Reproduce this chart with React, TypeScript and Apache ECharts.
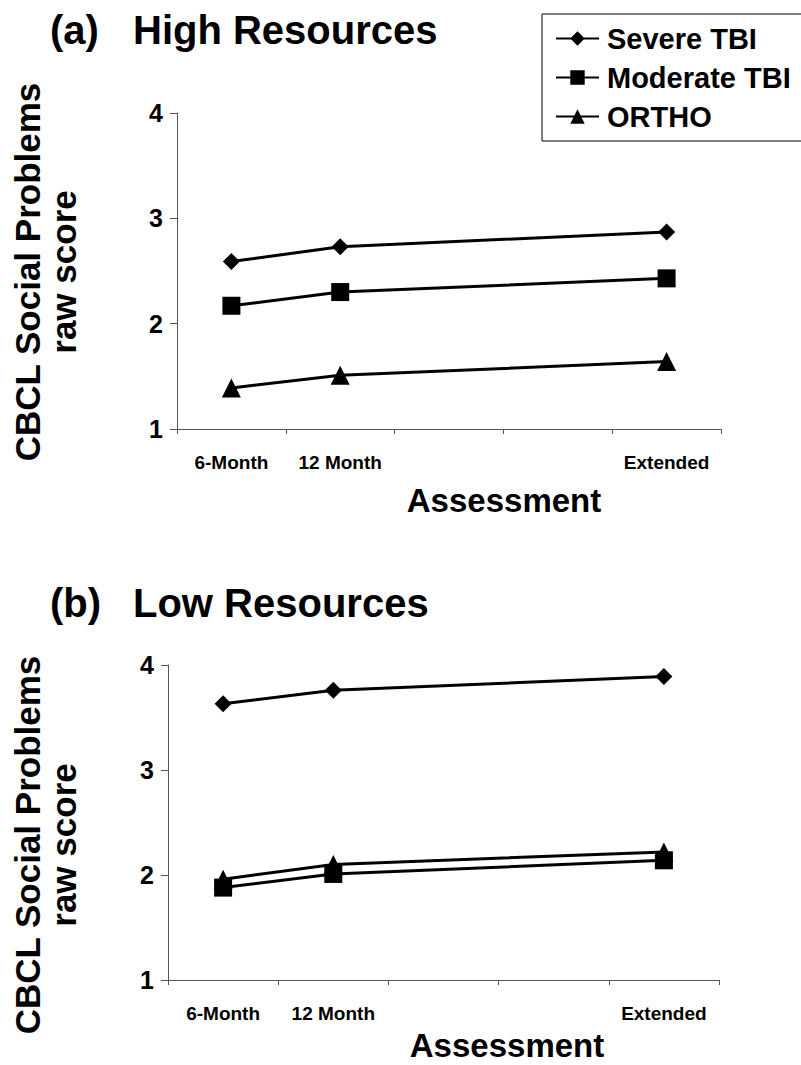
import React, { useEffect, useRef } from "react";
import * as echarts from "echarts";

const categories = ["6-Month", "12 Month", "", "", "Extended"];
const seriesNames = ["Severe TBI", "Moderate TBI", "ORTHO"];
const seriesSymbols = ["diamond", "rect", "triangle"];
const seriesSymbolSizes = [17, 18, 19];

// (a) High Resources
const highSevere = [2.59, 2.73, null, null, 2.87];
const highModerate = [2.17, 2.3, null, null, 2.43];
const highOrtho = [1.39, 1.51, null, null, 1.64];

// (b) Low Resources
const lowSevere = [3.63, 3.76, null, null, 3.89];
const lowModerate = [1.88, 2.01, null, null, 2.14];
const lowOrtho = [1.96, 2.1, null, null, 2.22];

const yTicks = [1, 2, 3, 4];

const FONT = "'Liberation Sans', Arial, sans-serif";

export default function App() {
  const ref = useRef<HTMLDivElement>(null);

  useEffect(() => {
    if (!ref.current) return;
    const chart = echarts.init(ref.current, null, { renderer: "svg" });

    const grids = [
      { left: 177, top: 113, width: 544, height: 316 },
      { left: 168, top: 665, width: 551, height: 315 },
    ];

    const xAxisBase = (gridIndex: number) => ({
      type: "category",
      gridIndex,
      data: categories,
      boundaryGap: true,
      axisLine: { lineStyle: { color: "#555", width: 1 } },
      axisTick: { show: true, length: 5, lineStyle: { color: "#555" } },
      axisLabel: {
        interval: 0,
        margin: 24,
        fontSize: 19,
        fontWeight: "bold",
        fontFamily: FONT,
        color: "#000",
      },
      splitLine: { show: false },
    });

    const yAxisBase = (gridIndex: number) => ({
      type: "value",
      gridIndex,
      min: yTicks[0],
      max: yTicks[yTicks.length - 1],
      interval: 1,
      axisLine: { show: true, lineStyle: { color: "#555", width: 1 } },
      axisTick: { show: true, length: 7, lineStyle: { color: "#555" } },
      axisLabel: {
        margin: 14,
        fontSize: 25,
        fontWeight: "bold",
        fontFamily: FONT,
        color: "#000",
      },
      splitLine: { show: false },
    });

    const panelData = [
      [highSevere, highModerate, highOrtho],
      [lowSevere, lowModerate, lowOrtho],
    ];

    const series: any[] = [];
    panelData.forEach((group, gi) => {
      group.forEach((data, si) => {
        series.push({
          type: "line",
          name: seriesNames[si],
          xAxisIndex: gi,
          yAxisIndex: gi,
          data,
          connectNulls: true,
          symbol: seriesSymbols[si],
          symbolSize: seriesSymbolSizes[si],
          showSymbol: true,
          lineStyle: { color: "#000", width: 3 },
          itemStyle: { color: "#000" },
          z: 3 - si,
        });
      });
    });

    const bigText = (text: string, x: number, y: number, size: number, extra: any = {}) => ({
      type: "text",
      x,
      y,
      style: {
        text,
        fontSize: size,
        fontWeight: "bold",
        fontFamily: FONT,
        fill: "#000",
        align: extra.align || "left",
        verticalAlign: "middle",
      },
      rotation: extra.rotation || 0,
    });

    chart.setOption({
      animation: false,
      backgroundColor: "#fff",
      grid: grids,
      xAxis: [xAxisBase(0), xAxisBase(1)],
      yAxis: [yAxisBase(0), yAxisBase(1)],
      legend: {
        orient: "vertical",
        left: 542,
        top: 14,
        padding: [10, 40, 10, 13],
        itemGap: 10,
        itemWidth: 43,
        itemHeight: 18,
        borderColor: "#000",
        borderWidth: 1,
        backgroundColor: "#fff",
        data: seriesNames,
        textStyle: {
          fontSize: 29,
          fontWeight: "bold",
          fontFamily: FONT,
          color: "#000",
          padding: [0, 0, 0, 3],
        },
      },
      graphic: [
        bigText("(a)", 50, 30, 40),
        bigText("High Resources", 133, 30, 40),
        bigText("(b)", 50, 603, 40),
        bigText("Low Resources", 133, 603, 40),
        bigText("CBCL Social Problems", 27, 272, 35, { align: "center", rotation: Math.PI / 2 }),
        bigText("raw score", 63, 272, 35, { align: "center", rotation: Math.PI / 2 }),
        bigText("CBCL Social Problems", 27, 845, 35, { align: "center", rotation: Math.PI / 2 }),
        bigText("raw score", 63, 845, 35, { align: "center", rotation: Math.PI / 2 }),
        bigText("Assessment", 504, 500, 33, { align: "center" }),
        bigText("Assessment", 507, 1045, 33, { align: "center" }),
      ],
      series,
    });

    return () => chart.dispose();
  }, []);

  return (
    <div
      ref={ref}
      style={{ position: "absolute", left: 0, top: 0, width: 801, height: 1065, background: "#fff" }}
    />
  );
}
